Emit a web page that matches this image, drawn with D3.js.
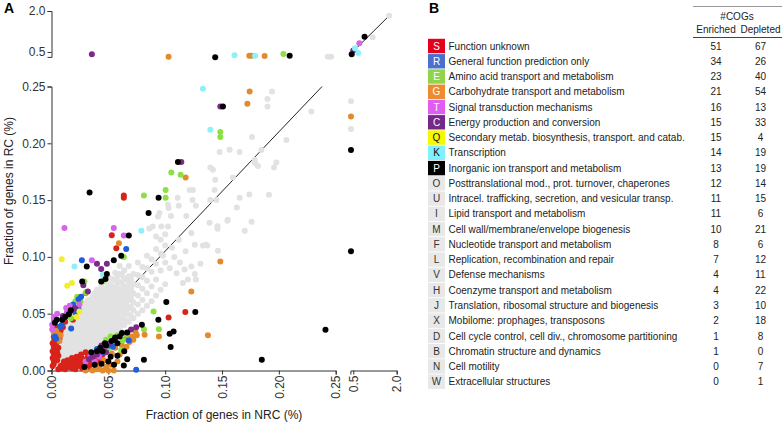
<!DOCTYPE html>
<html><head><meta charset="utf-8">
<script src="https://cdn.jsdelivr.net/npm/d3@7"></script>
<style>
body{margin:0;background:#fff;}
svg{font-family:"Liberation Sans",Arial,sans-serif;}
</style></head>
<body>
<script>
// ---------- DATA ----------
const categories = ["S","R","E","G","T","C","Q","K","P","O","U","I","M","F","L","V","H","J","X","D","B","N","W"];
const descriptions = ["Function unknown","General function prediction only","Amino acid transport and metabolism","Carbohydrate transport and metabolism","Signal transduction mechanisms","Energy production and conversion","Secondary metab. biosynthesis, transport. and catab.","Transcription","Inorganic ion transport and metabolism","Posttranslational mod., prot. turnover, chaperones","Intracel. trafficking, secretion, and vesicular transp.","Lipid transport and metabolism","Cell wall/membrane/envelope biogenesis","Nucleotide transport and metabolism","Replication, recombination and repair","Defense mechanisms","Coenzyme transport and metabolism","Translation, ribosomal structure and biogenesis","Mobilome: prophages, transposons","Cell cycle control, cell div., chromosome partitioning","Chromatin structure and dynamics","Cell motility","Extracellular structures"];
const enriched = [51,34,23,21,16,15,15,14,13,12,11,11,10,8,7,4,4,3,2,1,1,0,0];
const depleted = [67,26,40,54,13,33,4,19,19,14,15,6,21,6,12,11,22,10,18,8,0,7,1];

const xTicksMain = [0,0.05,0.10,0.15,0.20,0.25];
const xTicksBreak = [0.5,2.0];
const yTicksMain = [0,0.05,0.10,0.15,0.20,0.25];
const yTicksBreak = [0.5,2.0];

// reference line (NRC fraction -> RC fraction)
const refLineMain = [[0,0],[0.238,0.25]];
const refLineBreak = [[0.5,0.525],[1.7,1.785]];

// gray (non-significant) COGs: dense core rows [x, [y...]] and scattered points
const grayCore = [
 [0.004,[.006,.011,.016,.021,.026]],
 [0.006,[.009,.014,.019,.024,.029]],
 [0.008,[.007,.012,.017,.022,.027,.032]],
 [0.010,[.010,.015,.020,.025,.030,.035]],
 [0.012,[.009,.014,.019,.024,.029,.034,.039]],
 [0.014,[.012,.017,.022,.027,.032,.037]],
 [0.016,[.011,.016,.021,.026,.031,.036,.041]],
 [0.018,[.013,.018,.023,.028,.033,.038,.043]],
 [0.020,[.012,.017,.022,.027,.032,.037,.042,.047]],
 [0.022,[.015,.020,.025,.030,.035,.040,.045,.050]],
 [0.024,[.014,.019,.024,.029,.034,.039,.044,.049,.053]],
 [0.026,[.017,.022,.027,.032,.037,.042,.047,.052]],
 [0.028,[.016,.021,.026,.031,.036,.041,.046,.051,.056]],
 [0.030,[.019,.024,.029,.034,.039,.044,.049,.054,.059]],
 [0.032,[.018,.023,.028,.033,.038,.043,.048,.053,.058,.062]],
 [0.034,[.021,.026,.031,.036,.041,.046,.051,.056,.061]],
 [0.036,[.020,.025,.030,.035,.040,.045,.050,.055,.060,.065]],
 [0.038,[.023,.028,.033,.038,.043,.048,.053,.058,.063,.068]],
 [0.040,[.022,.027,.032,.037,.042,.047,.052,.057,.062,.067,.071]],
 [0.042,[.025,.030,.035,.040,.045,.050,.055,.060,.065,.070]],
 [0.044,[.024,.029,.034,.039,.044,.049,.054,.059,.064,.069,.074]],
 [0.046,[.027,.032,.037,.042,.047,.052,.057,.062,.067,.072]],
 [0.048,[.027,.032,.037,.042,.047,.052,.057,.062,.067,.072,.078]],
 [0.050,[.030,.035,.040,.045,.050,.055,.060,.065,.070,.076]],
 [0.052,[.030,.035,.040,.045,.050,.055,.060,.065,.070,.075,.081]],
 [0.054,[.033,.038,.043,.048,.053,.058,.063,.068,.073,.080]],
 [0.056,[.033,.038,.043,.048,.053,.058,.063,.068,.073,.079,.086]],
 [0.058,[.036,.041,.046,.051,.056,.061,.066,.071,.077,.083]],
 [0.060,[.036,.041,.046,.051,.056,.061,.066,.072,.078,.085,.092]],
 [0.062,[.040,.046,.052,.058,.064,.070,.077,.084]],
 [0.064,[.040,.045,.050,.056,.062,.068,.074,.081,.088]],
 [0.066,[.044,.051,.058,.065,.072,.080]],
 [0.068,[.043,.049,.055,.062,.069,.076,.083,.092]],
 [0.070,[.048,.056,.064,.072,.080]],
 [0.072,[.046,.053,.060,.068,.076,.085]],
 [0.076,[.050,.058,.066,.075,.084,.095]],
 [0.080,[.053,.062,.072,.082,.091]],
 [0.084,[.057,.068,.079,.090,.101]],
 [0.088,[.061,.074,.087,.098]],
 [0.092,[.066,.080,.094,.107]],
 [0.096,[.071,.088,.103,.115]],
 [0.100,[.076,.095,.110]]
];
const grayScatter = [
 [0.1215,0.159],[0.1244,0.159],[0.124,0.150],[0.127,0.145],[0.111,0.152],[0.112,0.145],[0.103,0.143],[0.105,0.136],
 [0.1186,0.136],[0.095,0.1386],[0.0966,0.1268],[0.089,0.1268],[0.1025,0.1268],[0.139,0.130],[0.146,0.127],[0.146,0.1247],
 [0.155,0.1327],[0.176,0.131],[0.1479,0.1923],[0.1567,0.1943],[0.1655,0.1923],[0.1397,0.1787],[0.142,0.1767],[0.144,0.168],
 [0.1596,0.170],[0.179,0.1826],[0.174,0.155],[0.1655,0.152],[0.163,0.1435],[0.1435,0.159],[0.145,0.150],[0.1763,0.2055],
 [0.194,0.2456],[0.190,0.239],[0.190,0.2324],[0.2286,0.228],[0.2066,0.203],[0.1846,0.194],[0.1787,0.1855],[0.1816,0.180],
 [0.1978,0.183],[0.1957,0.1787],[0.1913,0.1547],[0.1547,0.1318],[0.170,0.123],[0.123,0.121],[0.137,0.110],[0.1332,0.110],
 [0.1464,0.1054],[0.126,0.1107],[0.136,0.1107],[0.131,0.094],[0.126,0.085],[0.117,0.089],[0.1156,0.077],[0.120,0.080],
 [0.1397,0.150],[0.086,0.125],[0.0937,0.1356],[0.1025,0.146],[0.113,0.095],[0.123,0.0916],[0.110,0.0857],[0.127,0.080],
 [0.104,0.090],[0.108,0.100],[0.112,0.115],[0.100,0.120],[0.106,0.108],[0.118,0.105],[0.092,0.118],[0.098,0.101],
 [0.243,0.33],[0.246,0.33],[0.42,0.237],[0.42,0.2125],[1.17,1.04],[1.74,1.83]
];

// coloured (significantly enriched/depleted) COGs per category
const pointsS = [
 [0.002,0.006],[0.002,0.009],[0.003,0.012],[0.002,0.015],[0.003,0.018],[0.002,0.021],[0.004,0.024],[0.003,0.027],
 [0.005,0.030],[0.004,0.033],[0.006,0.020],[0.006,0.013],[0.005,0.009],[0.007,0.028],[0.008,0.035],[0.010,0.038],
 [0.012,0.043],[0.004,0.038],[0.006,0.001],[0.009,0.002],[0.012,0.001],[0.015,0.003],[0.018,0.002],[0.021,0.001],
 [0.024,0.004],[0.027,0.002],[0.030,0.005],[0.033,0.003],[0.036,0.006],[0.010,0.005],[0.013,0.006],[0.017,0.007],
 [0.020,0.008],[0.024,0.009],[0.028,0.010],[0.032,0.012],[0.035,0.014],[0.038,0.010],[0.041,0.015],[0.026,0.014],
 [0.030,0.016],[0.022,0.012],[0.018,0.011],[0.039,0.004],[0.0158,0.0505],[0.0188,0.0446],[0.053,0.119],[0.057,0.1077],
 [0.0636,0.154],[0.0636,0.152],[0.103,0.0467],[0.1177,0.0514],[0.0335,0.011],[0.0467,0.0197],[0.0408,0.0123],
 [0.008,0.004],[0.011,0.008],[0.014,0.009],[0.016,0.004],[0.019,0.005],[0.022,0.005],[0.025,0.007],[0.028,0.006],
 [0.031,0.009],[0.034,0.008],[0.037,0.012],[0.040,0.008],[0.043,0.011],[0.026,0.011],[0.020,0.003],[0.045,0.014],
 [0.001,0.004],[0.001,0.011],[0.001,0.017],[0.001,0.024],[0.002,0.030],[0.005,0.016]
];
const pointsR = [
 [0.0267,0.097],[0.0657,0.107],[0.0238,0.0628],[0.0238,0.054],[0.0077,0.0387],[0.068,0.0264],[0.0745,0.0006],
 [0.026,0.065],[0.0173,0.037],[0.003,0.030],[0.021,0.051],[0.050,0.022],[0.040,0.019],
 [0.045,0.016],[0.054,0.021],[0.009,0.040],[0.019,0.058],[0.004,0.028]
];
const pointsE = [
 [0.0813,0.154],[0.1004,0.159],[0.1004,0.152],[0.1054,0.1743],[0.1136,0.1723],[0.0636,0.100],[0.1485,0.2099],[0.1485,0.2055],
 [0.029,0.0784],[0.0306,0.069],[0.0226,0.065],[0.0255,0.061],[0.045,0.0784],[0.0898,0.052],[0.0813,0.0364],[0.0945,0.0364],
 [0.0628,0.0264],[0.0613,0.018],[0.050,0.019],[0.056,0.027],[0.044,0.018],[0.021,0.061],[0.017,0.046],[0.204,0.43],
 [0.048,0.027],[0.058,0.031],[0.052,0.030],[0.066,0.032],[0.014,0.054],[0.024,0.060]
];
const pointsG = [
 [0.118,0.170],[0.1743,0.2456],[0.1723,0.2348],[0.0593,0.112],[0.1485,0.096],[0.123,0.0696],[0.1376,0.031],[0.0819,0.0314],
 [0.0945,0.030],[0.0716,0.0294],[0.0687,0.025],[0.074,0.0335],[0.0548,0.0],[0.050,0.0],[0.045,0.0],[0.040,0.001],
 [0.036,0.0],[0.030,0.0],[0.056,0.020],[0.062,0.022],[0.065,0.028],[0.053,0.015],[0.046,0.009],[0.030,0.068],
 [0.006,0.032],[0.004,0.035],[0.007,0.026],[0.103,0.33],[0.174,0.36],[0.176,0.36],[0.1875,0.35],[0.42,0.2236],
 [0.048,0.003],[0.052,0.005],[0.058,0.008],[0.060,0.014],[0.066,0.021],[0.070,0.030],[0.072,0.027],[0.075,0.031],
 [0.042,0.004],[0.002,0.033],[0.008,0.031]
];
const pointsT = [
 [0.0114,0.1254],[0.0548,0.1254],[0.0636,0.1189],[0.0355,0.097],[0.0129,0.055],[0.0135,0.051],[0.0006,0.0402],[0.0006,0.036],
 [0.003,0.044],[0.042,0.012],[0.038,0.008],[0.0245,0.058],[0.71,0.82],
 [0.030,0.008],[0.034,0.012],[0.046,0.020],[0.002,0.047],[0.005,0.050],[0.016,0.057]
];
const pointsC = [
 [0.1142,0.1835],[0.1485,0.2324],[0.0487,0.094],[0.040,0.094],[0.0437,0.0893],[0.0745,0.038],[0.0206,0.055],[0.032,0.0695],
 [0.048,0.016],[0.040,0.014],[0.033,0.010],[0.0355,0.42],[0.50,0.55],
 [0.044,0.022],[0.036,0.012],[0.051,0.024],[0.070,0.036],[0.010,0.048],[0.028,0.075]
];
const pointsQ = [
 [0.009,0.098],[0.0179,0.077],[0.0138,0.0746],[0.0246,0.052],[0.022,0.047]
];
const pointsK = [
 [0.1332,0.248],[0.1397,0.2119],[0.079,0.123],[0.0202,0.0916],[0.0452,0.0842],[0.161,0.38],[0.179,0.36],[0.67,0.46],[0.56,0.635]
];
const pointsP = [
 [0.0335,0.1567],[0.0942,0.152],[0.0854,0.1386],[0.1112,0.1835],[0.068,0.1189],[0.0613,0.101],[0.0548,0.097],[0.1508,0.2324],
 [0.031,0.0916],[0.0487,0.085],[0.027,0.0784],[0.0437,0.0784],[0.0475,0.0805],[0.101,0.0602],[0.1265,0.0514],[0.094,0.0446],
 [0.0152,0.0496],[0.0094,0.0446],[0.0047,0.0446],[0.0795,0.0402],[0.1039,0.0323],[0.1074,0.0343],[0.1048,0.0206],[0.0666,0.0335],
 [0.0555,0.027],[0.0666,0.010],[0.0813,0.0094],[0.0636,0.0044],[0.185,0.0094],[0.241,0.0358],[0.029,0.003],[0.048,0.022],
 [0.045,0.017],[0.052,0.012],[0.058,0.024],[0.050,0.008],[0.144,0.31],[0.2095,0.36],[0.42,0.194],[0.42,0.105],
 [0.445,0.42],[0.89,1.06],
 [0.040,0.017],[0.043,0.020],[0.047,0.024],[0.053,0.026],[0.056,0.029],[0.060,0.030],[0.062,0.033],[0.035,0.016],
 [0.038,0.005],[0.044,0.006],[0.055,0.005],[0.058,0.013],[0.064,0.017],[0.012,0.047],[0.017,0.053],[0.003,0.042]
];

// ---------- STYLE ----------
const boxColor = {S:"#e2001a",R:"#4d6fcc",E:"#8fd44a",G:"#ec8b2f",T:"#e25cf2",C:"#76288a",Q:"#f7f700",K:"#80f2ff",P:"#000000"};
const dotColor = {S:"#d8231a",R:"#1f5ddb",E:"#8de040",G:"#e28a2c",T:"#d764ea",C:"#7a2b88",Q:"#f2ef2a",K:"#8ef0f8",P:"#000000"};
const letterColor = {S:"#fff",R:"#fff",E:"#fff",G:"#fff",T:"#fff",C:"#fff",Q:"#111",K:"#111",P:"#fff"};

const W = 784, H = 424;
const svg = d3.select("body").append("svg").attr("width",W).attr("height",H);

// scales (broken axes)
const x = d3.scaleLinear().domain([0,0.25]).range([51.5,335.7]);
const x2 = d3.scaleLinear().domain([0.4,2.0]).range([350.4,396.7]);
const y = d3.scaleLinear().domain([0,0.25]).range([370.5,86.5]);
const y2 = d3.scaleLinear().domain([0.32,2.0]).range([56.9,11]);
const px = v => v > 0.3 ? x2(v) : x(v);
const py = v => v > 0.3 ? y2(v) : y(v);

const axisColor = "#333";
function styleAxis(g){
  g.selectAll(".domain").attr("stroke",axisColor);
  g.selectAll(".tick line").attr("stroke",axisColor);
  g.selectAll("text").attr("fill","#333").style("font-size","12px").style("font-family","'Liberation Sans',Arial,sans-serif");
}

// y axes
const gy = svg.append("g").attr("transform","translate(51.5,0)")
  .call(d3.axisLeft(y).tickValues(yTicksMain).tickFormat(d3.format(".2f")).tickSize(4).tickSizeOuter(4).tickPadding(2));
styleAxis(gy);
const gy2 = svg.append("g").attr("transform","translate(51.5,0)")
  .call(d3.axisLeft(y2).tickValues(yTicksBreak).tickFormat(d3.format(".1f")).tickSize(4).tickSizeOuter(4).tickPadding(2));
styleAxis(gy2);

// x axes
function rotateX(g){
  g.selectAll(".tick text").attr("transform","rotate(-90)").attr("x",-5).attr("y",0).attr("dy","0.35em").style("text-anchor","end");
}
const gx = svg.append("g").attr("transform","translate(0,370.5)")
  .call(d3.axisBottom(x).tickValues(xTicksMain).tickFormat(d3.format(".2f")).tickSize(4).tickSizeOuter(4));
styleAxis(gx); rotateX(gx);
const gx2 = svg.append("g").attr("transform","translate(0,370.5)")
  .call(d3.axisBottom(x2).tickValues(xTicksBreak).tickFormat(d3.format(".1f")).tickSize(4).tickSizeOuter(4));
styleAxis(gx2); rotateX(gx2);

// axis titles
svg.append("text").attr("x",224).attr("y",418.5).attr("text-anchor","middle")
  .style("font-size","12px").attr("fill","#222").text("Fraction of genes in NRC (%)");
svg.append("text").attr("transform","translate(12.5,191) rotate(-90)").attr("text-anchor","middle")
  .style("font-size","12px").attr("fill","#222").text("Fraction of genes in RC (%)");

// panel labels
svg.append("text").attr("x",4).attr("y",13).style("font-size","14px").style("font-weight","bold").text("A");
svg.append("text").attr("x",429).attr("y",13).style("font-size","14px").style("font-weight","bold").text("B");

// reference lines
const lineGen = d3.line().x(d=>px(d[0])).y(d=>py(d[1]));
svg.append("path").attr("d",lineGen(refLineMain)).attr("stroke","#222").attr("stroke-width",1).attr("fill","none");
svg.append("path").attr("d",lineGen(refLineBreak)).attr("stroke","#222").attr("stroke-width",1).attr("fill","none");

// points
const R = 3;
const grayPts = grayCore.flatMap(([gx_, ys]) => ys.map(gy_ => [gx_, gy_])).concat(grayScatter);
svg.append("g").selectAll("circle").data(grayPts).join("circle")
  .attr("cx",d=>px(d[0])).attr("cy",d=>py(d[1])).attr("r",R).attr("fill","#e2e2e2");

const colored = [["S",pointsS],["G",pointsG],["E",pointsE],["R",pointsR],["T",pointsT],["C",pointsC],["Q",pointsQ],["K",pointsK],["P",pointsP]];
colored.forEach(([cat, pts]) => {
  svg.append("g").selectAll("circle").data(pts).join("circle")
    .attr("cx",d=>px(d[0])).attr("cy",d=>py(d[1])).attr("r",R).attr("fill",dotColor[cat]);
});

// ---------- LEGEND TABLE ----------
const rowY = d3.scalePoint().domain(categories).range([46,381.7]);
const colEn = 716, colDe = 760.5;
svg.append("line").attr("x1",693).attr("x2",782).attr("y1",6.5).attr("y2",6.5).attr("stroke","#999").attr("stroke-width",1);
svg.append("line").attr("x1",693).attr("x2",782).attr("y1",37.5).attr("y2",37.5).attr("stroke","#444").attr("stroke-width",1);
svg.append("text").attr("x",737).attr("y",19.5).attr("text-anchor","middle").style("font-size","10px").attr("fill","#222").text("#COGs");
svg.append("text").attr("x",colEn).attr("y",33).attr("text-anchor","middle").style("font-size","10px").attr("fill","#222").text("Enriched");
svg.append("text").attr("x",colDe).attr("y",33).attr("text-anchor","middle").style("font-size","10px").attr("fill","#222").text("Depleted");

const rows = svg.append("g").selectAll("g").data(categories).join("g")
  .attr("transform",d=>`translate(0,${rowY(d)})`);
rows.append("rect").attr("x",428).attr("y",-7.2).attr("width",17).attr("height",14.4)
  .attr("fill",d=>boxColor[d] || "#e8e8e8");
rows.append("text").attr("x",436.5).attr("y",3.6).attr("text-anchor","middle").style("font-size","10px")
  .attr("fill",d=>letterColor[d] || "#333").text(d=>d);
rows.append("text").attr("x",448.5).attr("y",3.6).style("font-size","10px").attr("fill","#222")
  .text((d,i)=>descriptions[i]);
rows.append("text").attr("x",colEn).attr("y",3.6).attr("text-anchor","middle").style("font-size","10px").attr("fill","#222")
  .text((d,i)=>enriched[i]);
rows.append("text").attr("x",colDe).attr("y",3.6).attr("text-anchor","middle").style("font-size","10px").attr("fill","#222")
  .text((d,i)=>depleted[i]);
</script>
</body></html>
